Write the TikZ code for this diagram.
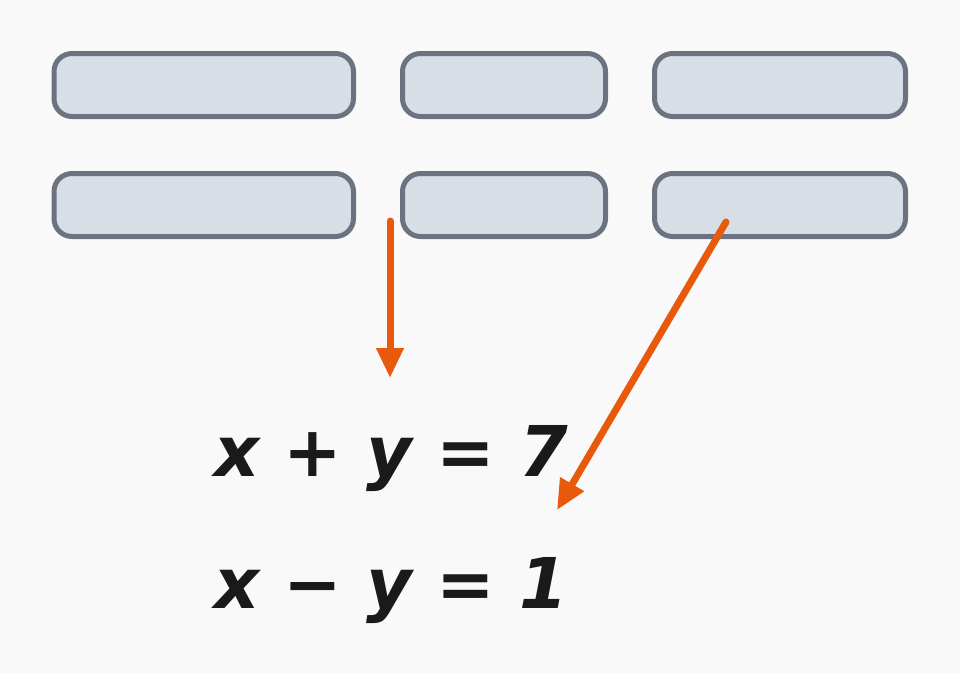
\documentclass[tikz,border=0pt]{standalone}
\usepackage{fontspec}
\newfontfamily\eqfont{DejaVu Sans}
\usetikzlibrary{arrows.meta}
\definecolor{bg}{HTML}{F9F9F9}
\definecolor{boxfill}{HTML}{D8DEE6}
\definecolor{boxline}{HTML}{6B7280}
\definecolor{arrowc}{HTML}{E8590C}
\definecolor{txt}{HTML}{1A1A1A}
\tikzset{
  cell/.style={draw=boxline, fill=boxfill, line width=5pt, rounded corners=18pt, minimum height=63pt, inner sep=0pt},
  pointer/.style={draw=arrowc, line width=7pt, line cap=round, -{Triangle[length=30pt,width=26pt]}},
  eq/.style={anchor=base west, inner sep=0pt, text=txt, font=\eqfont\bfseries\itshape\fontsize{70}{84}\selectfont}
}
\begin{document}
\begin{tikzpicture}[x=1pt,y=-1pt]
\fill[bg] (0,0) rectangle (960,673);
\useasboundingbox (0,0) rectangle (960,673);
\node[cell, minimum width=299.5pt] (b1) at (203.75,85) {};
\node[cell, minimum width=203pt] (b2) at (504,85) {};
\node[cell, minimum width=251pt] (b3) at (780,85) {};
\node[cell, minimum width=299.5pt] (b4) at (203.75,205) {};
\node[cell, minimum width=203pt] (b5) at (504,205) {};
\node[cell, minimum width=251pt] (b6) at (780,205) {};
\node[eq] (e1) at (214,476) {x + y = 7};
\node[eq] (e2) at (214,608) {x − y = 1};
\coordinate (s1) at (390,221);
\coordinate (t1) at (390,378);
\coordinate (s2) at (726,222);
\coordinate (t2) at (557,510);
\draw[pointer] (s1) -- (t1);
\draw[pointer] (s2) -- (t2);
\end{tikzpicture}
\end{document}
